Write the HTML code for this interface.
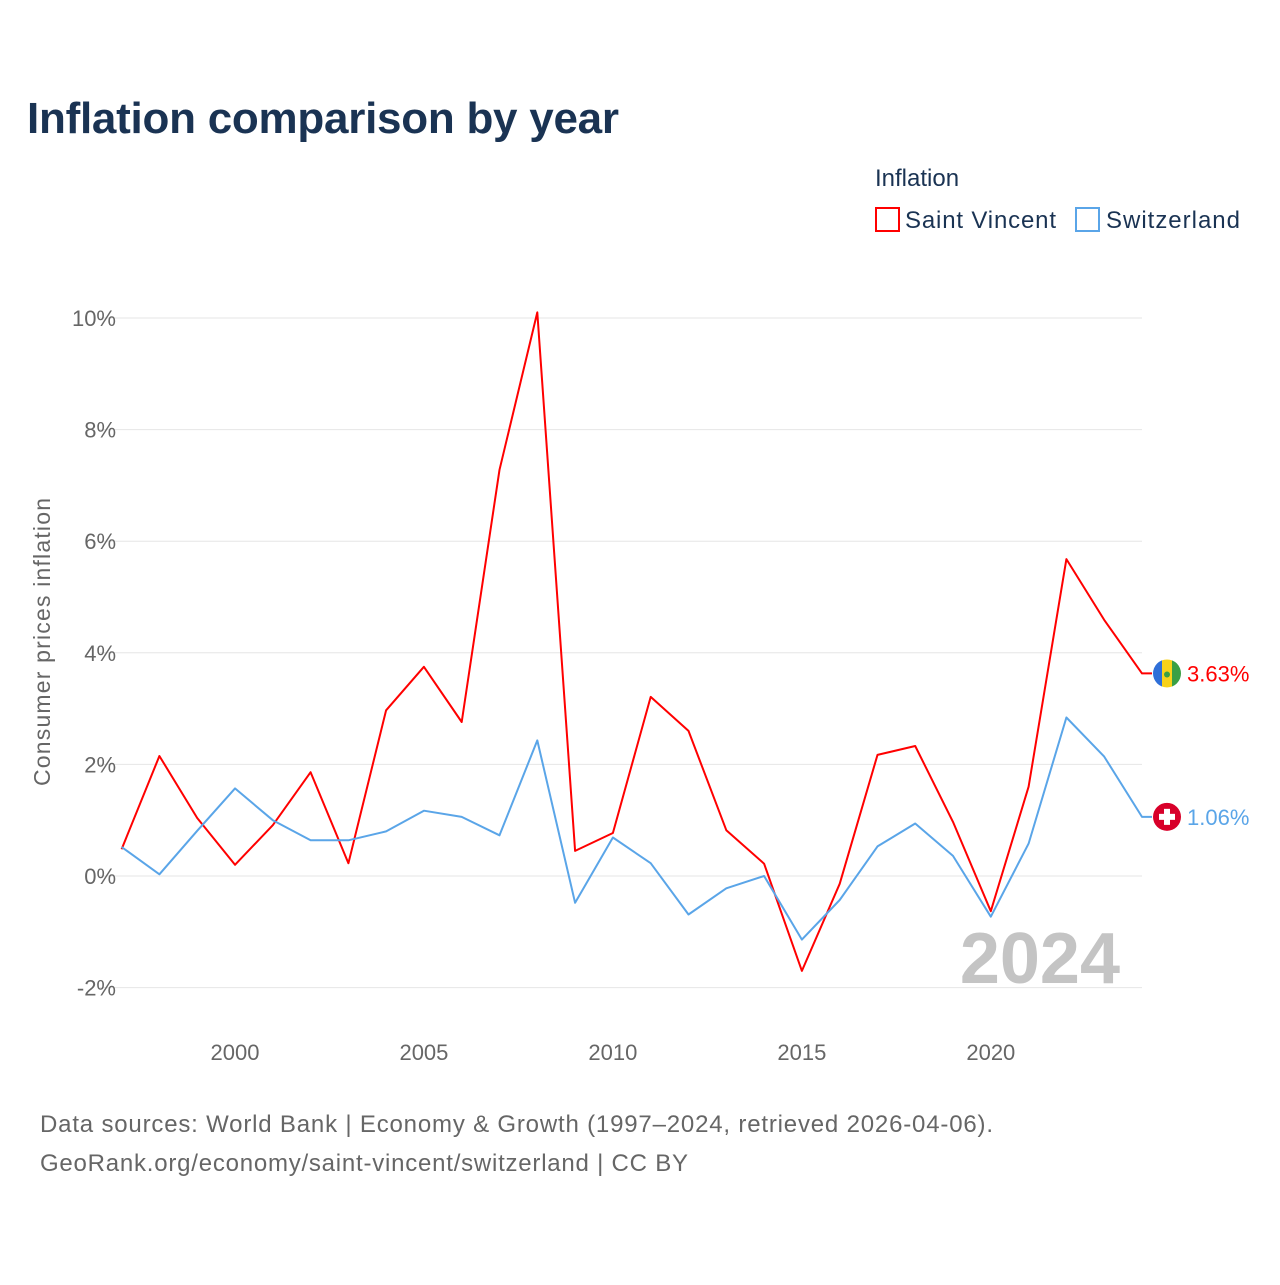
<!DOCTYPE html>
<html><head><meta charset="utf-8">
<style>
body{margin:0;background:#fff;font-family:"Liberation Sans",sans-serif;}
svg text{font-family:"Liberation Sans",sans-serif;}
</style></head>
<body>
<svg id="c" width="1280" height="1280" viewBox="0 0 1280 1280">
<defs><clipPath id="svc"><circle cx="1167" cy="673.5" r="14"/></clipPath></defs>
<text x="27" y="133" font-size="44" font-weight="bold" fill="#1a3353" textLength="592">Inflation comparison by year</text>
<text x="875" y="186" font-size="24" fill="#1a3353">Inflation</text>
<g>
<rect x="876" y="208" width="23" height="23" fill="none" stroke="#f00" stroke-width="2"/>
<text x="905" y="228" font-size="24" fill="#1a3353" textLength="151">Saint Vincent</text></g>
<g>
<rect x="1076" y="208" width="23" height="23" fill="none" stroke="#5aa5e8" stroke-width="2"/>
<text x="1106" y="228" font-size="24" fill="#1a3353" textLength="134">Switzerland</text></g>
<text transform="translate(50,642) rotate(-90)" text-anchor="middle" font-size="23" fill="#666" textLength="288">Consumer prices inflation</text>
<g id="grid"></g><g id="xt"></g><g id="lines"></g>
<text x="1120" y="983" text-anchor="end" font-size="72" font-weight="bold" fill="#c4c4c4">2024</text>
<text x="40" y="1132" font-size="24" fill="#666" textLength="953">Data sources: World Bank | Economy &amp; Growth (1997–2024, retrieved 2026-04-06).</text>
<text x="40" y="1171" font-size="24" fill="#666" textLength="648">GeoRank.org/economy/saint-vincent/switzerland | CC BY</text>
</svg>
<script>
const years=[1997,1998,1999,2000,2001,2002,2003,2004,2005,2006,2007,2008,2009,2010,2011,2012,2013,2014,2015,2016,2017,2018,2019,2020,2021,2022,2023,2024];
const saintVincent=[0.48,2.15,1.04,0.2,0.91,1.86,0.23,2.97,3.75,2.76,7.28,10.1,0.45,0.77,3.21,2.6,0.82,0.22,-1.7,-0.14,2.17,2.33,0.97,-0.63,1.6,5.68,4.59,3.63];
const switzerland=[0.52,0.03,0.81,1.57,1.0,0.64,0.64,0.8,1.17,1.06,0.73,2.43,-0.48,0.69,0.23,-0.69,-0.22,0.0,-1.14,-0.43,0.53,0.94,0.36,-0.73,0.58,2.84,2.14,1.06];
const yTicks=[-2,0,2,4,6,8,10];
const xTicks=[2000,2005,2010,2015,2020];
const NS="http://www.w3.org/2000/svg";
const X=y=>121.6+(y-1997)*(1142-121.6)/27;
const Y=v=>876-v*55.8;
function mk(t,a,p){const e=document.createElementNS(NS,t);for(const k in a)e.setAttribute(k,a[k]);p.appendChild(e);return e;}
const g=document.getElementById('grid');
yTicks.forEach(v=>{
 const l=mk('line',{x1:100,x2:1142,y1:Y(v),y2:Y(v),stroke:'#e6e6e6','stroke-width':1},g);
 
 
 const t=mk('text',{x:116,y:Y(v)+8,'text-anchor':'end','font-size':22,fill:'#666'},g);
 t.textContent=v+'%';
 
 
});
const xt=document.getElementById('xt');
xTicks.forEach(v=>{
 const t=mk('text',{x:X(v),y:1060,'text-anchor':'middle','font-size':22,fill:'#666'},xt);
 t.textContent=v;
 
 
});
const L=document.getElementById('lines');
function series(vals,col,name){
 let d=vals.map((v,i)=>(i?'L':'M')+X(years[i]).toFixed(1)+','+Y(v).toFixed(1)).join(' ');
 const last=vals[vals.length-1];
 d+=' L1152,'+Y(last).toFixed(1);
 const p=mk('path',{d:d,fill:'none',stroke:col,'stroke-width':2,'stroke-linejoin':'round'},L);
 
 
 const t=mk('text',{x:1187,y:Y(last)+8,'font-size':22,fill:col},L);
 t.textContent=last.toFixed(2)+'%';
 
 
 return Y(last);
}
const y1=series(saintVincent,'#f00','saint-vincent');
const f1=mk('g',{},L);


document.querySelector('#svc circle').setAttribute('cy',y1);
mk('rect',{x:1153,y:y1-14,width:9,height:28,fill:'#2f6fd8','clip-path':'url(#svc)'},f1);
mk('rect',{x:1162,y:y1-14,width:10,height:28,fill:'#f8d21a','clip-path':'url(#svc)'},f1);
mk('rect',{x:1172,y:y1-14,width:9,height:28,fill:'#3aa045','clip-path':'url(#svc)'},f1);
mk('circle',{cx:1167,cy:y1+1,r:3,fill:'#3aa045'},f1);
const y2=series(switzerland,'#5aa5e8','switzerland');
const f2=mk('g',{},L);


mk('circle',{cx:1167,cy:y2,r:14,fill:'#d8002a'},f2);
mk('rect',{x:1164,y:y2-8,width:6,height:16,fill:'#fff'},f2);
mk('rect',{x:1159,y:y2-3,width:16,height:6,fill:'#fff'},f2);
</script>
</body></html>
